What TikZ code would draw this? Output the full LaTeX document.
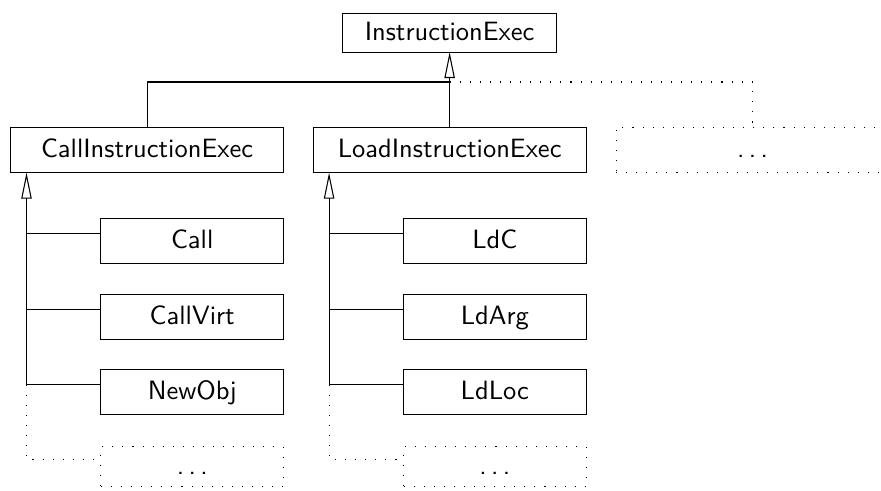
\documentclass[tikz,border=0pt]{standalone}
\usetikzlibrary{arrows.meta, positioning}

\newcommand{\moredots}{.\,.\,.}

\begin{document}
\begin{tikzpicture}[
    font=\sffamily,
    node distance=11.5pt,
    box/.style={rectangle, draw, inner sep=1pt, outer sep=0pt, text height=1.6ex, text depth=.3ex},
    topbox/.style={box, minimum width=80.8pt, minimum height=14.7pt},
    clsbox/.style={box, minimum width=103pt, minimum height=17.2pt},
    subbox/.style={box, minimum width=68.9pt, minimum height=17pt},
    loose/.style={dash pattern=on .4pt off 3.4pt},
    inh/.style={-{Triangle[open, length=9.8pt, width=3.9pt]}}
]
\useasboundingbox (-169.7pt,12.3pt) rectangle (162.8pt,-173pt);

\node[topbox] (exec) at (0,0) {InstructionExec};
\node[clsbox, below=28.3pt of exec] (load) {LoadInstructionExec};
\node[clsbox, left=11.2pt of load] (call) {CallInstructionExec};
\node[clsbox, loose, right=11.3pt of load] (more) {\moredots};

\node[subbox, below left=17.4pt and 0pt of call.south east] (c1) {Call};
\node[subbox, below=of c1] (c2) {CallVirt};
\node[subbox, below=of c2] (c3) {NewObj};
\node[subbox, loose, minimum height=15.1pt, below=12.1pt of c3] (c4) {\moredots};

\node[subbox, below left=17.4pt and 0pt of load.south east] (l1) {LdC};
\node[subbox, below=of l1] (l2) {LdArg};
\node[subbox, below=of l2] (l3) {LdLoc};
\node[subbox, loose, minimum height=15.1pt, below=12.1pt of l3] (l4) {\moredots};

\coordinate (cbus) at ([xshift=6pt]call.south west);
\coordinate (lbus) at ([xshift=6pt]load.south west);
\coordinate (joint) at ([yshift=17pt]load.north);

\draw (call.north) |- (joint);
\draw[inh] (load.north) -- (exec.south);
\draw[loose] (joint) -| (more.north);

\foreach \p in {c, l} {
  \foreach \i in {1,...,4}
    \coordinate (\p\i in) at ([yshift=2.8pt]\p\i.west);
  \draw[inh] (\p bus |- \p3in) -- (\p bus);
  \foreach \i in {1,2,3}
    \draw (\p bus |- \p\i in) -- (\p\i in);
  \draw[loose] (\p bus |- \p3in) |- (\p4in);
}

\end{tikzpicture}
\end{document}
